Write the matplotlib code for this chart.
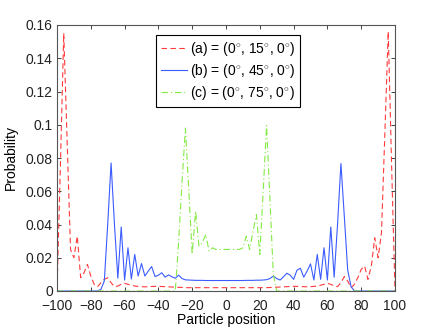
import numpy as np
import matplotlib
matplotlib.use("Agg")
import matplotlib.pyplot as plt

plt.rcParams['font.family'] = ['Liberation Sans', 'DejaVu Sans']
plt.rcParams['mathtext.fontset'] = 'custom'
plt.rcParams['mathtext.rm'] = 'Liberation Sans'
plt.rcParams['mathtext.it'] = 'Liberation Sans:italic'

positions = np.arange(-100, 101, 2)

prob_a = [0, 0.075, 0.155, 0.090, 0.025, 0.020, 0.033, 0.008, 0.011, 0.016,
          0.009, 0.004, 0.0026, 0.005, 0.007, 0.008, 0.005, 0.0026, 0.003, 0.004,
          0.0046, 0.004, 0.0035, 0.003, 0.0028, 0.0026, 0.0025, 0.0026, 0.0027, 0.0028,
          0.0028, 0.0027, 0.0026, 0.0025, 0.0024, 0.0023, 0.0022, 0.0021, 0.002,
          0.002, 0.002, 0.002, 0.002, 0.002, 0.002, 0.002, 0.002, 0.002, 0.002, 0.002, 0.002,
          0.002, 0.002, 0.002, 0.002, 0.002, 0.002, 0.002, 0.002, 0.002, 0.002, 0.002,
          0.002, 0.0021, 0.0022, 0.0023, 0.0024, 0.0025, 0.0026, 0.0027, 0.0028,
          0.0028, 0.0027, 0.0026, 0.0025, 0.0026, 0.0028, 0.003, 0.0035, 0.004, 0.0046,
          0.004, 0.003, 0.0026, 0.005, 0.0087, 0.006, 0.002, 0.004, 0.008, 0.013,
          0.015, 0.007, 0.015, 0.032, 0.020, 0.035, 0.095, 0.156, 0.075, 0]

prob_b = [0, 0, 0, 0, 0, 0, 0, 0, 0, 0, 0, 0, 0,
          0.001, 0.006, 0.040, 0.077, 0.040, 0.0077, 0.0385, 0.0066, 0.026, 0.0072,
          0.022, 0.009, 0.0165, 0.009, 0.012, 0.0147, 0.0087, 0.0095, 0.011, 0.0083,
          0.0097, 0.0085, 0.0077, 0.0095, 0.0075, 0.0067, 0.0066,
          0.0065, 0.0064, 0.0064, 0.0064, 0.0063, 0.0063, 0.0063, 0.0063, 0.0063, 0.0063,
          0.0063, 0.0063, 0.0063, 0.0063, 0.0063, 0.0063, 0.0064, 0.0064, 0.0064, 0.0065,
          0.0065,
          0.0066, 0.0068, 0.0075, 0.009, 0.0075, 0.0066, 0.0085, 0.0107, 0.0095, 0.007,
          0.0125, 0.0137, 0.0083, 0.012, 0.0163, 0.0066, 0.022, 0.007, 0.026, 0.0066,
          0.0385, 0.0083, 0.040, 0.0767, 0.045, 0.0127, 0.0026,
          0, 0, 0, 0, 0, 0, 0, 0, 0, 0, 0, 0, 0]

prob_c = [0] * 36 + [
          0.03, 0.066, 0.098, 0.06, 0.022, 0.048, 0.027, 0.029, 0.034, 0.024,
          0.026, 0.025, 0.025, 0.025, 0.025, 0.025, 0.025, 0.025, 0.025, 0.026,
          0.033, 0.025, 0.036, 0.046, 0.022, 0.06, 0.0996, 0.055, 0.01] + [0] * 36

labels = [r'(a) = (0$^{\circ}$, 15$^{\circ}$, 0$^{\circ}$)',
          r'(b) = (0$^{\circ}$, 45$^{\circ}$, 0$^{\circ}$)',
          r'(c) = (0$^{\circ}$, 75$^{\circ}$, 0$^{\circ}$)']

xticks = [-100, -80, -60, -40, -20, 0, 20, 40, 60, 80, 100]
yticks = [0, 0.02, 0.04, 0.06, 0.08, 0.1, 0.12, 0.14, 0.16]
yticklabels = ['0', '0.02', '0.04', '0.06', '0.08', '0.1', '0.12', '0.14', '0.16']

fig = plt.figure(figsize=(4.36, 3.28), dpi=100)
ax = fig.add_axes([57 / 436, 1 - 291 / 328, 338 / 436, 266 / 328])

ax.plot(positions, prob_a, linestyle=(0, (5, 3)), color='#ff3b3b', lw=0.8, label=labels[0])
ax.plot(positions, prob_b, linestyle='-', color='#3a5cff', lw=0.8, label=labels[1])
ax.plot(positions, prob_c, linestyle=(0, (6, 2.5, 1, 2.5)), color='#84ea44', lw=0.8, label=labels[2])

ax.set_xlim(-100, 100)
ax.set_ylim(0, 0.16)
ax.set_xticks(xticks)
ax.set_xticklabels([str(t).replace('-', '\u2212') for t in xticks])
ax.set_yticks(yticks)
ax.set_yticklabels(yticklabels)
ax.tick_params(direction='in', top=True, right=True, length=3, width=0.6,
               labelsize=10, colors='#222222')
ax.tick_params(axis='x', pad=5.5)
ax.tick_params(axis='y', pad=3)
for s in ax.spines.values():
    s.set_linewidth(0.8)
    s.set_color('#555555')

ax.set_xlabel('Particle position', fontsize=10, labelpad=0.5)
ax.set_ylabel('Probability', fontsize=10, labelpad=6)

leg = ax.legend(loc='upper left', bbox_to_anchor=(0.292, 0.962), borderaxespad=0,
                fancybox=False, edgecolor='black', framealpha=1, fontsize=10,
                handlelength=1.9, handletextpad=0.2, labelspacing=0.3,
                borderpad=0.35)
leg.get_frame().set_linewidth(0.8)

fig.savefig('out.png', dpi=100)
